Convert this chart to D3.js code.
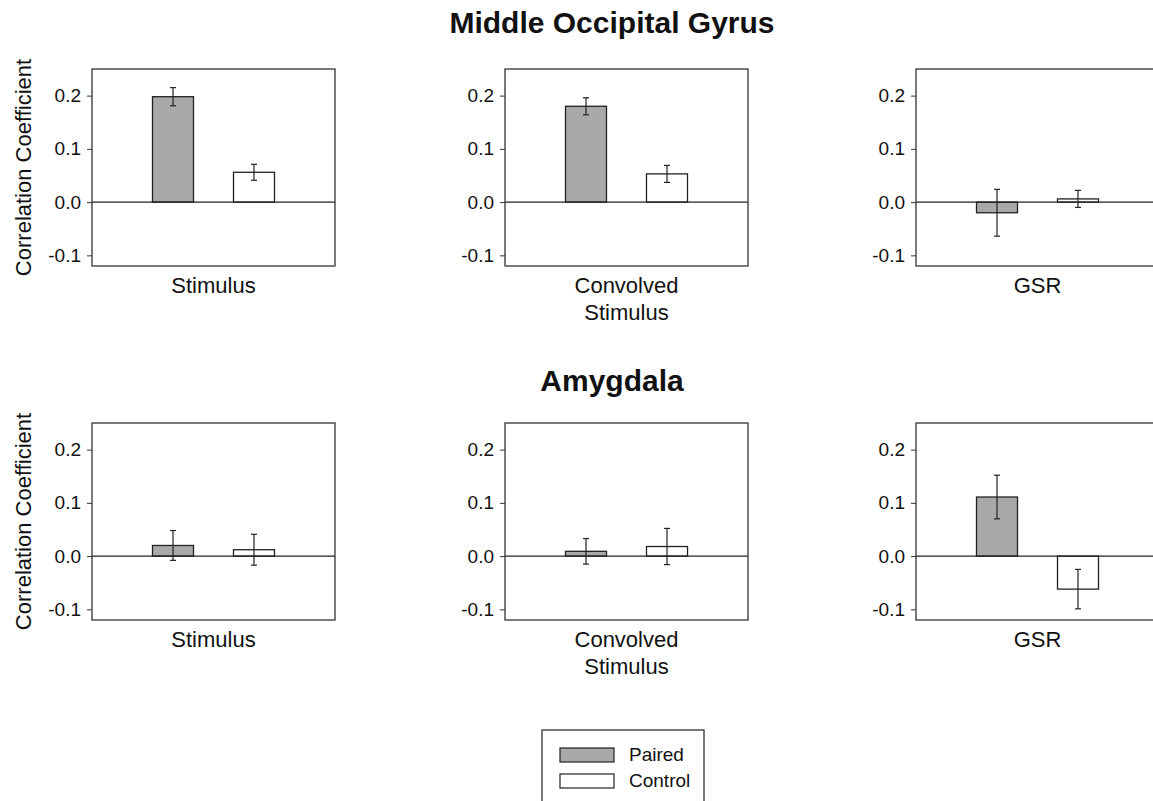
<!DOCTYPE html>
<meta charset="utf-8">
<style>
body { margin: 0; background: #fff; }
svg { font-family: "Liberation Sans", Arial, sans-serif; }
.axis .domain { display: none; }
.axis line { stroke: #333; }
.axis text { font-size: 19px; fill: #111; }
</style>
<svg width="1153" height="801"></svg>
<script src="https://d3js.org/d3.v7.min.js"></script>
<script>

// data
var regions = ["Middle Occipital Gyrus", "Amygdala"];
var regressors = [["Stimulus"], ["Convolved", "Stimulus"], ["GSR"]];
var groups = ["Paired", "Control"];
var pairedMean  = [[0.198, 0.180, -0.020], [0.020, 0.009, 0.111]];
var pairedErr   = [[0.017, 0.016, 0.044], [0.028, 0.024, 0.041]];
var controlMean = [[0.056, 0.053, 0.006], [0.012, 0.018, -0.062]];
var controlErr  = [[0.015, 0.016, 0.016], [0.029, 0.034, 0.037]];
var yTicks = [-0.1, 0.0, 0.1, 0.2];

var svg = d3.select("svg");

// panel layout
var colX = [92, 505, 916],
    rowY = [69, 423],
    titleY = [33, 391],
    pw = 243, ph = 197, barW = 41;

var fills = { Paired: "#a9a9a9", Control: "#ffffff" };

var y = d3.scaleLinear().domain([-0.12, 0.25]).range([ph, 0]);
var x = d3.scalePoint().domain(groups).range([0, pw]).padding(1);

// plain hyphen for negatives, like the original
var fmt = function(d) { return d3.format(".1f")(d).replace("\u2212", "-"); };

regions.forEach(function(region, r) {
  svg.append("text")
      .attr("x", 612)
      .attr("y", titleY[r])
      .attr("text-anchor", "middle")
      .attr("font-size", 30)
      .attr("font-weight", "bold")
      .attr("fill", "#111")
      .text(region);

  // y axis title on first column
  svg.append("text")
      .attr("transform", "translate(31," + (rowY[r] + ph / 2) + ") rotate(-90)")
      .attr("text-anchor", "middle")
      .attr("font-size", 22)
      .attr("fill", "#111")
      .text("Correlation Coefficient");

  regressors.forEach(function(label, c) {
    var g = svg.append("g")
        .attr("transform", "translate(" + colX[c] + "," + rowY[r] + ")");

    var data = [
      { group: "Paired", mean: pairedMean[r][c], err: pairedErr[r][c] },
      { group: "Control", mean: controlMean[r][c], err: controlErr[r][c] }
    ];

    g.append("g")
        .attr("class", "axis")
        .call(d3.axisLeft(y).tickValues(yTicks).tickSize(5).tickPadding(6).tickFormat(fmt));

    g.selectAll("rect.bar")
      .data(data)
      .enter().append("rect")
        .attr("class", "bar")
        .attr("x", function(d) { return x(d.group) - barW / 2; })
        .attr("y", function(d) { return y(Math.max(0, d.mean)); })
        .attr("width", barW)
        .attr("height", function(d) { return Math.abs(y(d.mean) - y(0)); })
        .attr("fill", function(d) { return fills[d.group]; })
        .attr("stroke", "#222")
        .attr("stroke-width", 1.3);

    // zero line
    g.append("line")
        .attr("x1", 0).attr("x2", pw)
        .attr("y1", y(0)).attr("y2", y(0))
        .attr("stroke", "#222")
        .attr("stroke-width", 1.2);

    // error bars
    var eb = g.selectAll("g.err")
      .data(data)
      .enter().append("g")
        .attr("class", "err")
        .attr("stroke", "#222")
        .attr("stroke-width", 1.2);
    eb.append("line")
        .attr("x1", function(d) { return x(d.group); })
        .attr("x2", function(d) { return x(d.group); })
        .attr("y1", function(d) { return y(d.mean + d.err); })
        .attr("y2", function(d) { return y(d.mean - d.err); });
    [1, -1].forEach(function(s) {
      eb.append("line")
          .attr("x1", function(d) { return x(d.group) - 3; })
          .attr("x2", function(d) { return x(d.group) + 3; })
          .attr("y1", function(d) { return y(d.mean + s * d.err); })
          .attr("y2", function(d) { return y(d.mean + s * d.err); });
    });

    // frame
    g.append("rect")
        .attr("width", pw)
        .attr("height", ph)
        .attr("fill", "none")
        .attr("stroke", "#333")
        .attr("stroke-width", 1.3);

    // category label (may wrap to two lines)
    var t = g.append("text")
        .attr("x", pw / 2)
        .attr("y", ph + 27)
        .attr("text-anchor", "middle")
        .attr("font-size", 22)
        .attr("fill", "#111");
    label.forEach(function(line, i) {
      t.append("tspan")
          .attr("x", pw / 2)
          .attr("dy", i === 0 ? 0 : 27)
          .text(line);
    });
  });
});

// legend
var legend = svg.append("g").attr("transform", "translate(542,730)");
legend.append("rect")
    .attr("width", 162)
    .attr("height", 90)
    .attr("fill", "none")
    .attr("stroke", "#333")
    .attr("stroke-width", 1.3);
var item = legend.selectAll("g.item")
  .data(groups)
  .enter().append("g")
    .attr("class", "item")
    .attr("transform", function(d, i) { return "translate(18," + (18 + i * 26) + ")"; });
item.append("rect")
    .attr("width", 54)
    .attr("height", 14)
    .attr("fill", function(d) { return fills[d]; })
    .attr("stroke", "#222")
    .attr("stroke-width", 1.2);
item.append("text")
    .attr("x", 69)
    .attr("y", 13)
    .attr("font-size", 19)
    .attr("fill", "#111")
    .text(function(d) { return d; });

</script>
